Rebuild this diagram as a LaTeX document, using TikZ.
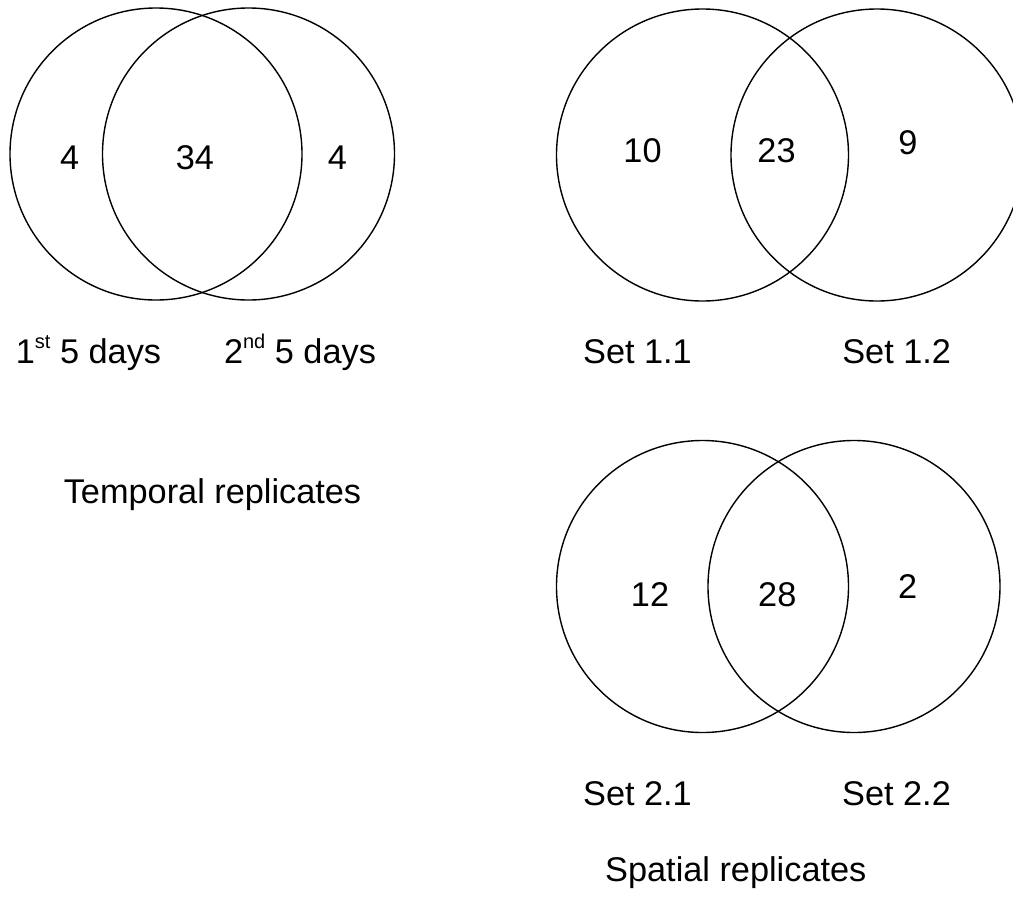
\documentclass[tikz,border=0pt]{standalone}
\usepackage{fontspec}
\setmainfont{Liberation Sans}
\newcommand{\supr}[1]{\raisebox{15pt}{\fontsize{20}{24}\selectfont #1}}
\begin{document}
\begin{tikzpicture}[x=1pt,y=-1pt,
  venn/.style={circle,draw=black,line width=1.4pt,minimum size=292pt,inner sep=0pt},
  lbl/.style={anchor=base,inner sep=0pt,font=\fontsize{34.3}{40}\selectfont}]
\useasboundingbox (0,0) rectangle (1013,903);
\clip (0,0) rectangle (1013,903);
% temporal
\node[venn] (A) at (156,154) {};
\node[venn] (B) at (248.5,154) {};
\node[lbl] (nA) at (69.7,169) {4};
\node[lbl] (nAB) at (195,169) {34};
\node[lbl] (nB) at (337.5,169) {4};
\node[lbl] (tA) at (88.5,363) {1\supr{st} 5 days};
\node[lbl] (tB) at (300,363) {2\supr{nd} 5 days};
\node[lbl] (temp) at (212.5,503) {Temporal replicates};
% set 1
\node[venn] (C) at (702.5,155) {};
\node[venn] (D) at (877,155) {};
\node[lbl] (nC) at (642.5,162.3) {10};
\node[lbl] (nCD) at (776.5,162.3) {23};
\node[lbl] (nD) at (908,154) {9};
\node[lbl] (tC) at (637.5,363) {Set 1.1};
\node[lbl] (tD) at (896.7,363) {Set 1.2};
% set 2
\node[venn] (E) at (702.5,586.5) {};
\node[venn] (F) at (854,586.5) {};
\node[lbl] (nE) at (650,606.7) {12};
\node[lbl] (nEF) at (777.3,606.7) {28};
\node[lbl] (nF) at (907.7,598.3) {2};
\node[lbl] (tE) at (637.5,805.7) {Set 2.1};
\node[lbl] (tF) at (896.5,805.7) {Set 2.2};
\node[lbl] (spat) at (735.8,881.7) {Spatial replicates};
\end{tikzpicture}
\end{document}
